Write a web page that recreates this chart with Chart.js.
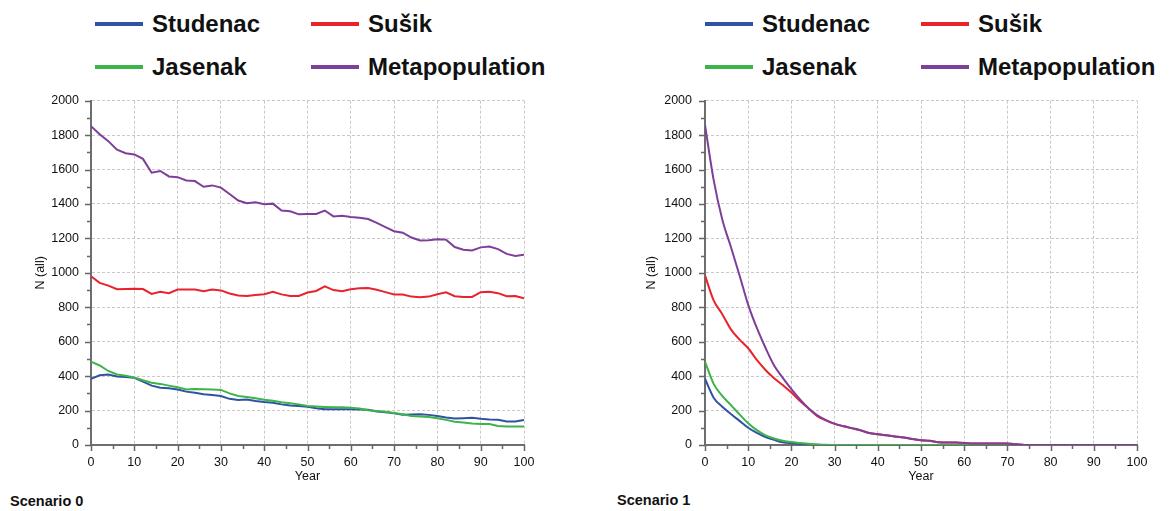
<!DOCTYPE html>
<html>
<head>
<meta charset="utf-8">
<script src="https://cdn.jsdelivr.net/npm/chart.js@4.4.1/dist/chart.umd.min.js"></script>
<style>
  body {
    margin: 0;
    background: #fff;
    width: 1169px;
    height: 511px;
    overflow: hidden;
    position: relative;
    font-family: "Liberation Sans", Arial, sans-serif;
  }
  canvas { position: absolute; top: 90px; }
  .item {
    position: absolute;
    display: flex;
    align-items: center;
    height: 30px;
    font-weight: bold;
    font-size: 24px;
    color: #111;
    white-space: nowrap;
  }
  .item .line { display: inline-block; width: 48px; height: 4px; margin-right: 9px; }
  .scenario { position: absolute; font-weight: bold; font-size: 14.5px; line-height: 16px; color: #111; }
</style>
</head>
<body>
<div id="legend0"></div>
<div id="legend1"></div>
<canvas id="chart0" width="560" height="400" style="left:0px"></canvas>
<canvas id="chart1" width="555" height="400" style="left:614px"></canvas>
<div class="scenario" style="left:10px; top:493px">Scenario 0</div>
<div class="scenario" style="left:617px; top:492px">Scenario 1</div>

<script>
// years simulated (every 2nd year shown)
const years = [0, 2, 4, 6, 8, 10, 12, 14, 16, 18, 20, 22, 24, 26, 28, 30, 32, 34, 36, 38, 40,
  42, 44, 46, 48, 50, 52, 54, 56, 58, 60, 62, 64, 66, 68, 70, 72, 74, 76, 78, 80,
  82, 84, 86, 88, 90, 92, 94, 96, 98, 100];

const seriesNames = ["Studenac", "Sušik", "Jasenak", "Metapopulation"];
const seriesColors = ["#2f52a3", "#e8232b", "#3db44a", "#7d3f98"];

// Scenario 0
const s0Studenac = [385, 405, 410, 398, 395, 390, 368, 345, 333, 330, 322, 310, 304, 295, 291, 285, 268, 262, 264, 256, 250,
  246, 236, 230, 227, 222, 214, 208, 207, 207, 207, 206, 205, 195, 190, 185, 176, 177, 178, 175, 168,
  160, 154, 156, 158, 152, 148, 146, 136, 136, 145];
const s0Susik = [980, 942, 926, 905, 906, 908, 906, 878, 890, 882, 903, 903, 903, 893, 903, 898, 880, 868, 865, 872, 876,
  890, 875, 866, 866, 886, 895, 922, 900, 893, 905, 910, 912, 902, 888, 874, 874, 862, 858, 862, 876,
  887, 864, 860, 860, 888, 890, 882, 864, 866, 852];
const s0Jasenak = [484, 462, 430, 410, 402, 392, 376, 362, 355, 345, 335, 322, 325, 324, 322, 320, 300, 285, 279, 272, 263,
  257, 248, 243, 236, 226, 223, 221, 219, 219, 217, 212, 202, 197, 193, 186, 178, 169, 166, 162, 156,
  146, 135, 131, 125, 122, 122, 110, 107, 107, 107];
const s0Meta = [1852, 1805, 1765, 1715, 1695, 1688, 1662, 1582, 1592, 1560, 1556, 1537, 1533, 1500, 1508, 1495, 1458, 1420, 1405, 1410, 1398,
  1402, 1362, 1358, 1340, 1342, 1342, 1362, 1328, 1332, 1325, 1320, 1313, 1290, 1266, 1242, 1233, 1205, 1188, 1190, 1195,
  1193, 1150, 1134, 1130, 1148, 1153, 1138, 1110, 1098, 1105];

// Scenario 1
const s1Studenac = [385, 275, 222, 180, 140, 100, 70, 46, 30, 16, 10, 6, 3, 1, 0, 0, 0, 0, 0, 0, 0,
  0, 0, 0, 0, 0, 0, 0, 0, 0, 0, 0, 0, 0, 0, 0, 0, 0, 0, 0, 0,
  0, 0, 0, 0, 0, 0, 0, 0, 0, 0];
const s1Susik = [985, 840, 760, 672, 612, 562, 494, 436, 388, 348, 305, 255, 212, 168, 143, 123, 109, 97, 85, 70, 62,
  56, 50, 44, 35, 28, 25, 16, 14, 14, 12, 8, 8, 8, 8, 8, 4, 0, 0, 0, 0,
  0, 0, 0, 0, 0, 0, 0, 0, 0, 0];
const s1Jasenak = [484, 355, 285, 232, 178, 126, 86, 56, 38, 25, 17, 12, 7, 3, 1, 0, 0, 0, 0, 0, 0,
  0, 0, 0, 0, 0, 0, 0, 0, 0, 0, 0, 0, 0, 0, 0, 0, 0, 0, 0, 0,
  0, 0, 0, 0, 0, 0, 0, 0, 0, 0];
const s1Meta = [1860, 1540, 1310, 1150, 985, 814, 680, 565, 462, 390, 325, 265, 212, 172, 145, 124, 110, 98, 86, 70, 62,
  56, 50, 44, 35, 28, 25, 16, 14, 14, 12, 8, 8, 8, 8, 8, 4, 0, 0, 0, 0,
  0, 0, 0, 0, 0, 0, 0, 0, 0, 0];

const yMax = 2000, yStep = 200;
const xMax = 100, xStep = 10;

const tickFont = { family: "'Liberation Sans', Arial, sans-serif", size: 12.5 };

// major + minor tick marks outside the axes
const axisTicks = {
  id: 'axisTicks',
  afterDraw(chart, args, o) {
    const { ctx, chartArea: a, scales: { x, y } } = chart;
    ctx.save();
    ctx.strokeStyle = '#666';
    ctx.lineWidth = 1.5;
    ctx.beginPath();
    for (let v = 0; v <= yMax; v += yStep / 2) {
      const py = Math.round(y.getPixelForValue(v)) + 0.5;
      const len = v % yStep === 0 ? o.major : o.minor;
      ctx.moveTo(a.left - len, py);
      ctx.lineTo(a.left, py);
    }
    for (let v = 0; v <= xMax; v += xStep / 2) {
      const px = Math.round(x.getPixelForValue(v)) + 0.5;
      const len = v % xStep === 0 ? o.major : o.minor;
      ctx.moveTo(px, a.bottom);
      ctx.lineTo(px, a.bottom + len);
    }
    ctx.stroke();
    ctx.restore();
  }
};

function buildLegend(el, x0) {
  const cols = [x0, x0 + 216];
  const rows = [9, 52];
  seriesNames.forEach((name, i) => {
    const d = document.createElement('div');
    d.className = 'item';
    d.style.left = cols[i % 2] + 'px';
    d.style.top = rows[Math.floor(i / 2)] + 'px';
    d.innerHTML = '<span class="line" style="background:' + seriesColors[i] + '"></span>' + name;
    el.appendChild(d);
  });
}

function makeChart(id, series, cfg) {
  const order = [4, 3, 2, 1];
  return new Chart(document.getElementById(id), {
    type: 'line',
    data: {
      datasets: series.map((vals, i) => ({
        label: seriesNames[i],
        data: years.map((yr, k) => ({ x: yr, y: vals[k] })),
        borderColor: seriesColors[i],
        borderWidth: 2,
        pointRadius: 0,
        tension: 0,
        cubicInterpolationMode: cfg.smooth ? 'monotone' : 'default',
        fill: false,
        order: order[i]
      }))
    },
    options: {
      responsive: false,
      animation: false,
      events: [],
      layout: { padding: { top: 10.7, right: cfg.padRight, left: 0, bottom: 0 } },
      plugins: {
        legend: { display: false },
        tooltip: { enabled: false },
        axisTicks: { major: 6, minor: 4 }
      },
      scales: {
        x: {
          type: 'linear',
          min: 0,
          max: xMax,
          ticks: { stepSize: xStep, padding: 10, color: '#111', font: tickFont, maxRotation: 0 },
          grid: { color: '#c9c9c9', lineWidth: 1, drawTicks: false },
          border: { color: '#6e6e6e', width: 2, dash: [3, 2] },
          title: { display: true, text: 'Year', color: '#111', font: tickFont, padding: { top: 0, bottom: 6 } },
          afterFit(s) { s.height = 45; s.paddingLeft = 0; s.paddingRight = 0; }
        },
        y: {
          min: 0,
          max: yMax,
          ticks: {
            stepSize: yStep,
            padding: cfg.yLabelPad,
            color: '#111',
            font: tickFont,
            callback: (v) => String(v)
          },
          grid: { color: '#c9c9c9', lineWidth: 1, drawTicks: false },
          border: { color: '#6e6e6e', width: 2, dash: [3, 2] },
          title: { display: true, text: 'N (all)', color: '#111', font: tickFont, padding: { top: cfg.yTitlePad, bottom: 0 } },
          afterFit(s) { s.width = 91; s.paddingTop = 0; s.paddingBottom = 0; }
        }
      }
    },
    plugins: [axisTicks]
  });
}

buildLegend(document.getElementById('legend0'), 95);
buildLegend(document.getElementById('legend1'), 705);

makeChart('chart0', [s0Studenac, s0Susik, s0Jasenak, s0Meta], { padRight: 36, yLabelPad: 12, yTitlePad: 33, smooth: false });
makeChart('chart1', [s1Studenac, s1Susik, s1Jasenak, s1Meta], { padRight: 32, yLabelPad: 13, yTitlePad: 30, smooth: true });
</script>
</body>
</html>
